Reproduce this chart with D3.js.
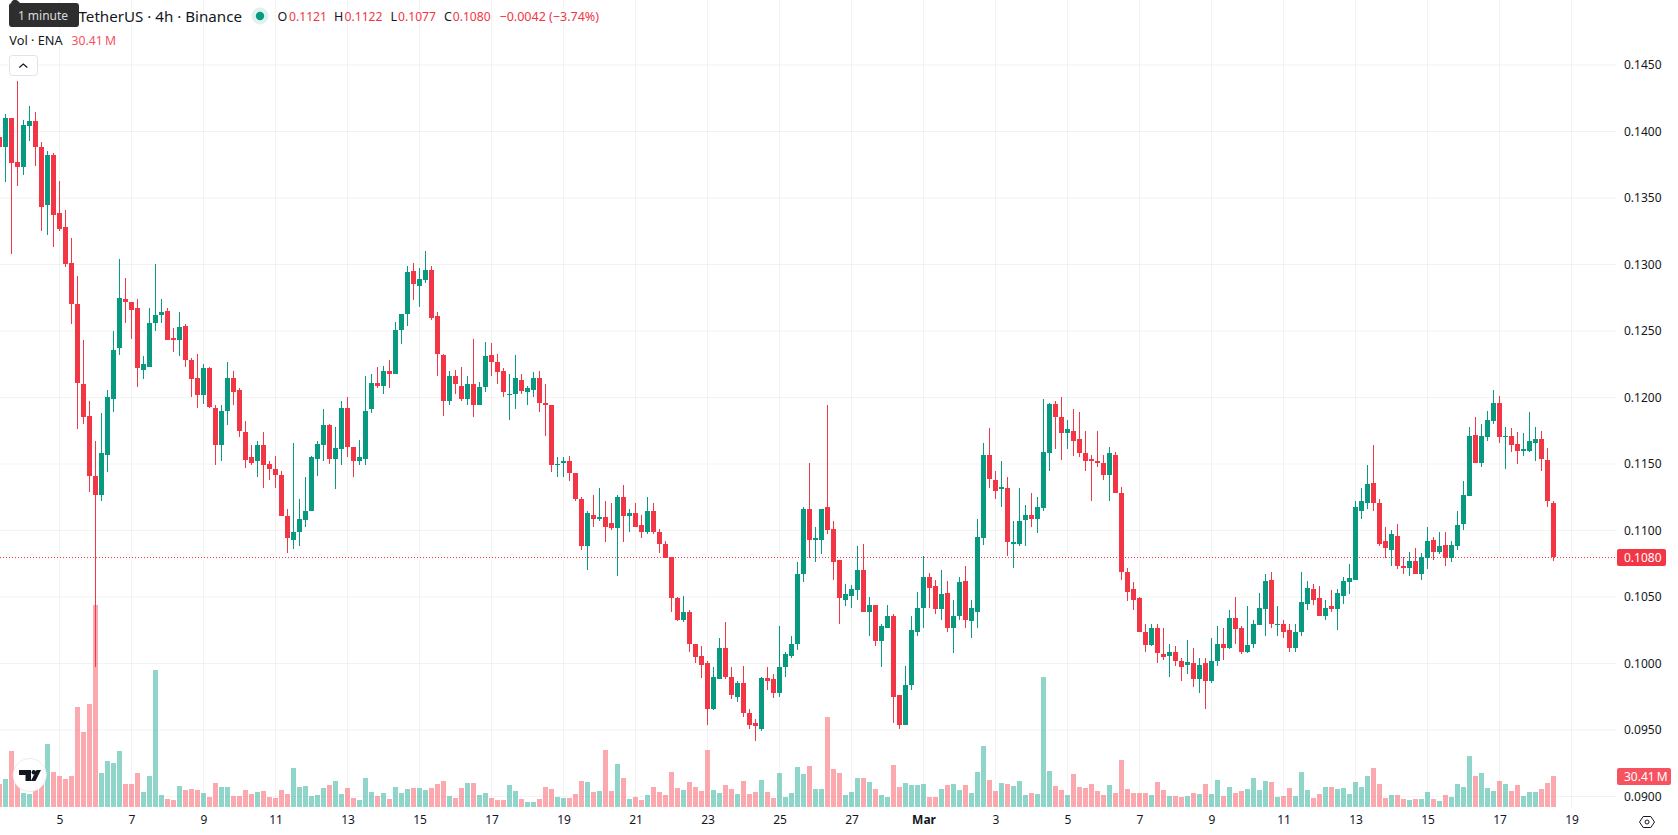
<!DOCTYPE html>
<html>
<head>
<meta charset="utf-8">
<title>ENA / TetherUS 4h</title>
<script src="https://cdn.jsdelivr.net/npm/d3@7/dist/d3.min.js"></script>
<style>
  html, body { margin: 0; padding: 0; background: #ffffff; overflow: hidden; }
  svg { display: block; font-family: "Noto Sans", sans-serif; }
</style>
</head>
<body>
<svg id="chart" width="1678" height="835"></svg>
<script>
// ENA/USDT four-hour candles, oldest first
const opens = [
0.1396,0.1388,0.1410,0.1377,0.1373,0.1404,0.1408,0.1388,0.1345,0.1382,
0.1339,0.1328,0.1301,0.1270,0.1210,0.1186,0.1141,0.1127,0.1157,0.1199,
0.1237,0.1274,0.1272,0.1267,0.1221,0.1223,0.1256,0.1262,0.1265,0.1245,
0.1243,0.1254,0.1228,0.1215,0.1202,0.1222,0.1192,0.1164,0.1190,0.1215,
0.1206,0.1174,0.1155,0.1152,0.1164,0.1150,0.1146,0.1142,0.1111,0.1093,
0.1099,0.1108,0.1115,0.1154,0.1164,0.1179,0.1154,0.1161,0.1192,0.1163,
0.1152,0.1154,0.1191,0.1211,0.1209,0.1220,0.1218,0.1251,0.1263,0.1295,
0.1284,0.1288,0.1296,0.1261,0.1232,0.1197,0.1216,0.1209,0.1199,0.1210,
0.1194,0.1208,0.1232,0.1227,0.1220,0.1203,0.1203,0.1213,0.1204,0.1206,
0.1215,0.1196,0.1194,0.1149,0.1151,0.1152,0.1143,0.1124,0.1088,0.1112,
0.1109,0.1110,0.1106,0.1102,0.1125,0.1111,0.1113,0.1104,0.1099,0.1115,
0.1099,0.1090,0.1080,0.1049,0.1033,0.1039,0.1015,0.1006,0.1000,0.0966,
0.0988,0.1012,0.0990,0.0975,0.0985,0.0963,0.0955,0.0951,0.0989,0.0988,
0.0978,0.0997,0.1006,0.1015,0.1067,0.1116,0.1093,0.1093,0.1118,0.1101,
0.1078,0.1048,0.1051,0.1055,0.1070,0.1039,0.1044,0.1017,0.1027,0.1036,
0.0976,0.0954,0.0984,0.1024,0.1042,0.1065,0.1058,0.1041,0.1053,0.1027,
0.1036,0.1062,0.1032,0.1039,0.1094,0.1157,0.1138,0.1131,0.1132,0.1090,
0.1090,0.1108,0.1112,0.1109,0.1117,0.1158,0.1195,0.1185,0.1173,0.1175,
0.1169,0.1158,0.1154,0.1152,0.1151,0.1142,0.1157,0.1128,0.1069,0.1056,
0.1049,0.1024,0.1014,0.1027,0.1007,0.1006,0.1009,0.1002,0.0999,0.1000,
0.0988,0.1000,0.0987,0.1002,0.1015,0.1012,0.1034,0.1027,0.1009,0.1015,
0.1029,0.1041,0.1063,0.1029,0.1030,0.1025,0.1012,0.1024,0.1045,0.1056,
0.1049,0.1036,0.1043,0.1041,0.1051,0.1061,0.1063,0.1115,0.1121,0.1136,
0.1121,0.1092,0.1085,0.1096,0.1073,0.1072,0.1077,0.1067,0.1079,0.1093,
0.1084,0.1089,0.1079,0.1088,0.1105,0.1126,0.1172,0.1151,0.1170,0.1182,
0.1196,0.1170,0.1171,0.1165,0.1160,0.1160,0.1166,0.1169,0.1153,0.1121
];
const highs = [
0.1397,0.1413,0.1410,0.1438,0.1409,0.1419,0.1415,0.1392,0.1385,0.1384,
0.1363,0.1341,0.1320,0.1291,0.1243,0.1197,0.1167,0.1188,0.1206,0.1250,
0.1304,0.1290,0.1272,0.1274,0.1231,0.1267,0.1300,0.1274,0.1267,0.1252,
0.1264,0.1255,0.1230,0.1233,0.1225,0.1223,0.1194,0.1194,0.1227,0.1220,
0.1207,0.1182,0.1164,0.1167,0.1174,0.1152,0.1156,0.1145,0.1116,0.1166,
0.1124,0.1140,0.1156,0.1167,0.1191,0.1180,0.1178,0.1197,0.1200,0.1163,
0.1168,0.1216,0.1218,0.1223,0.1224,0.1228,0.1257,0.1263,0.1299,0.1301,
0.1297,0.1310,0.1299,0.1264,0.1233,0.1220,0.1221,0.1223,0.1216,0.1244,
0.1212,0.1242,0.1241,0.1233,0.1222,0.1218,0.1232,0.1218,0.1209,0.1219,
0.1220,0.1210,0.1194,0.1155,0.1155,0.1156,0.1143,0.1125,0.1115,0.1127,
0.1132,0.1122,0.1121,0.1127,0.1134,0.1116,0.1121,0.1112,0.1125,0.1121,
0.1101,0.1092,0.1080,0.1050,0.1051,0.1040,0.1015,0.1013,0.1002,0.0997,
0.1019,0.1031,0.0997,0.0987,0.0998,0.0966,0.0958,0.0990,0.0997,0.0992,
0.1028,0.1009,0.1021,0.1076,0.1118,0.1151,0.1103,0.1116,0.1194,0.1107,
0.1078,0.1060,0.1059,0.1088,0.1090,0.1050,0.1044,0.1030,0.1044,0.1037,
0.0976,0.0998,0.1036,0.1054,0.1081,0.1068,0.1063,0.1070,0.1062,0.1048,
0.1065,0.1073,0.1048,0.1109,0.1166,0.1177,0.1145,0.1152,0.1140,0.1107,
0.1132,0.1119,0.1128,0.1125,0.1199,0.1196,0.1197,0.1200,0.1183,0.1191,
0.1189,0.1175,0.1157,0.1175,0.1157,0.1163,0.1159,0.1133,0.1072,0.1061,
0.1050,0.1030,0.1030,0.1030,0.1027,0.1015,0.1013,0.1004,0.1018,0.1012,
0.1004,0.1004,0.1019,0.1028,0.1027,0.1040,0.1050,0.1028,0.1043,0.1033,
0.1053,0.1067,0.1069,0.1043,0.1033,0.1030,0.1030,0.1069,0.1062,0.1060,
0.1058,0.1048,0.1055,0.1056,0.1065,0.1075,0.1122,0.1132,0.1149,0.1164,
0.1124,0.1103,0.1100,0.1105,0.1080,0.1084,0.1087,0.1083,0.1103,0.1095,
0.1099,0.1099,0.1092,0.1115,0.1137,0.1178,0.1185,0.1180,0.1190,0.1206,
0.1201,0.1178,0.1177,0.1174,0.1173,0.1189,0.1178,0.1175,0.1162,0.1122
];
const lows = [
0.1387,0.1362,0.1308,0.1359,0.1367,0.1393,0.1374,0.1325,0.1322,0.1313,
0.1325,0.1298,0.1255,0.1176,0.1180,0.1129,0.0997,0.1122,0.1144,0.1189,
0.1232,0.1256,0.1244,0.1208,0.1214,0.1223,0.1250,0.1256,0.1243,0.1234,
0.1231,0.1223,0.1200,0.1192,0.1195,0.1192,0.1149,0.1152,0.1179,0.1194,
0.1170,0.1147,0.1149,0.1140,0.1132,0.1138,0.1132,0.1111,0.1083,0.1086,
0.1088,0.1103,0.1115,0.1141,0.1152,0.1150,0.1131,0.1149,0.1155,0.1140,
0.1149,0.1149,0.1188,0.1207,0.1203,0.1207,0.1218,0.1240,0.1254,0.1273,
0.1268,0.1286,0.1258,0.1216,0.1186,0.1194,0.1203,0.1197,0.1194,0.1185,
0.1194,0.1204,0.1216,0.1210,0.1200,0.1183,0.1191,0.1203,0.1194,0.1200,
0.1189,0.1171,0.1144,0.1140,0.1140,0.1137,0.1122,0.1085,0.1070,0.1103,
0.1107,0.1091,0.1100,0.1066,0.1091,0.1099,0.1103,0.1094,0.1097,0.1097,
0.1083,0.1079,0.1039,0.1032,0.1031,0.1009,0.1000,0.0989,0.0954,0.0965,
0.0988,0.0988,0.0973,0.0971,0.0960,0.0951,0.0942,0.0949,0.0980,0.0974,
0.0975,0.0990,0.1004,0.1010,0.1061,0.1079,0.1076,0.1082,0.1097,0.1063,
0.1030,0.1043,0.1042,0.1048,0.1039,0.1021,0.1013,0.0997,0.1027,0.0955,
0.0951,0.0954,0.0980,0.1021,0.1027,0.1042,0.1037,0.1033,0.1024,0.1008,
0.1033,0.1027,0.1019,0.1027,0.1089,0.1132,0.1124,0.1118,0.1081,0.1072,
0.1088,0.1088,0.1103,0.1098,0.1115,0.1145,0.1161,0.1153,0.1161,0.1156,
0.1155,0.1145,0.1122,0.1148,0.1138,0.1122,0.1128,0.1063,0.1047,0.1040,
0.1024,0.1009,0.1013,0.1000,0.1003,0.0990,0.0998,0.0987,0.0992,0.0982,
0.0978,0.0966,0.0985,0.0998,0.1003,0.1011,0.1015,0.1007,0.1008,0.1012,
0.1029,0.1021,0.1027,0.1021,0.1019,0.1009,0.1009,0.1021,0.1040,0.1044,
0.1036,0.1033,0.1039,0.1025,0.1045,0.1052,0.1063,0.1109,0.1116,0.1115,
0.1088,0.1079,0.1073,0.1071,0.1067,0.1066,0.1067,0.1063,0.1071,0.1078,
0.1082,0.1073,0.1076,0.1085,0.1100,0.1126,0.1151,0.1148,0.1167,0.1180,
0.1166,0.1146,0.1159,0.1150,0.1156,0.1159,0.1152,0.1145,0.1118,0.1077
];
const closes = [
0.1388,0.1410,0.1376,0.1373,0.1405,0.1408,0.1388,0.1343,0.1382,0.1337,
0.1327,0.1300,0.1270,0.1211,0.1185,0.1141,0.1127,0.1158,0.1200,0.1236,
0.1275,0.1272,0.1266,0.1222,0.1225,0.1256,0.1262,0.1264,0.1243,0.1243,
0.1253,0.1228,0.1214,0.1202,0.1222,0.1193,0.1164,0.1190,0.1215,0.1204,
0.1175,0.1153,0.1151,0.1164,0.1149,0.1146,0.1142,0.1111,0.1094,0.1099,
0.1109,0.1115,0.1155,0.1165,0.1179,0.1154,0.1162,0.1192,0.1163,0.1152,
0.1155,0.1190,0.1211,0.1209,0.1220,0.1218,0.1251,0.1263,0.1294,0.1285,
0.1289,0.1296,0.1260,0.1233,0.1197,0.1216,0.1210,0.1199,0.1210,0.1194,
0.1208,0.1231,0.1227,0.1219,0.1204,0.1203,0.1215,0.1205,0.1207,0.1215,
0.1196,0.1194,0.1149,0.1150,0.1152,0.1143,0.1124,0.1088,0.1113,0.1109,
0.1110,0.1103,0.1102,0.1125,0.1111,0.1113,0.1103,0.1099,0.1115,0.1099,
0.1090,0.1079,0.1049,0.1033,0.1039,0.1015,0.1005,0.0999,0.0966,0.0990,
0.1012,0.0990,0.0976,0.0985,0.0963,0.0954,0.0953,0.0989,0.0987,0.0978,
0.0997,0.1007,0.1015,0.1067,0.1116,0.1093,0.1094,0.1116,0.1100,0.1076,
0.1049,0.1052,0.1056,0.1070,0.1039,0.1044,0.1017,0.1028,0.1036,0.0975,
0.0954,0.0984,0.1025,0.1042,0.1065,0.1057,0.1041,0.1052,0.1027,0.1036,
0.1061,0.1033,0.1042,0.1095,0.1157,0.1139,0.1130,0.1133,0.1091,0.1091,
0.1107,0.1112,0.1109,0.1118,0.1159,0.1195,0.1185,0.1173,0.1176,0.1167,
0.1158,0.1152,0.1152,0.1151,0.1142,0.1158,0.1128,0.1069,0.1054,0.1048,
0.1024,0.1014,0.1027,0.1008,0.1005,0.1009,0.1002,0.0997,0.1001,0.0988,
0.0999,0.0987,0.1002,0.1015,0.1012,0.1034,0.1026,0.1009,0.1014,0.1030,
0.1042,0.1062,0.1030,0.1030,0.1024,0.1012,0.1024,0.1046,0.1057,0.1048,
0.1036,0.1042,0.1041,0.1053,0.1062,0.1064,0.1118,0.1122,0.1135,0.1121,
0.1090,0.1087,0.1097,0.1073,0.1072,0.1077,0.1067,0.1080,0.1092,0.1084,
0.1088,0.1079,0.1089,0.1104,0.1127,0.1171,0.1151,0.1171,0.1183,0.1196,
0.1170,0.1171,0.1164,0.1160,0.1161,0.1167,0.1169,0.1154,0.1122,0.1080
];
// Traded volume per candle, in millions of ENA
const volumes = [
22.6,27.5,55.0,30.0,13.7,12.8,21.6,25.0,61.8,34.3,
30.4,27.5,30.4,98.0,73.6,101.0,198.0,33.4,45.0,43.0,
55.0,22.6,22.6,33.4,14.7,30.4,134.0,11.8,7.8,6.9,
20.6,16.7,17.7,16.7,13.7,9.8,23.5,19.6,19.6,10.8,
10.8,16.7,12.8,14.7,15.7,9.8,8.8,16.7,12.8,38.3,
19.6,20.6,10.8,11.8,18.6,21.6,25.5,12.8,18.6,8.8,
6.9,28.4,14.7,10.8,13.7,7.8,19.6,13.7,17.7,18.6,
18.6,16.7,18.6,22.6,25.5,10.8,8.8,18.6,23.5,23.5,
11.8,13.7,8.8,6.9,6.9,21.6,15.7,7.8,4.9,4.9,
7.8,19.6,17.7,9.8,8.8,8.8,12.8,25.5,24.5,14.7,
15.7,56.0,15.7,42.2,28.4,7.8,9.8,6.9,11.8,19.6,
14.7,11.8,34.3,18.6,16.7,24.5,19.6,15.7,56.0,16.7,
13.7,21.6,17.7,12.8,25.5,12.8,14.7,26.5,14.7,8.8,
33.4,9.8,13.7,39.2,32.4,40.2,17.7,17.7,88.3,37.3,
33.4,11.8,14.7,28.4,28.4,24.5,17.7,11.8,9.8,41.2,
19.6,23.5,21.6,21.6,22.6,9.8,9.8,17.7,21.6,22.6,
16.7,21.6,13.7,34.3,59.8,26.5,15.7,23.5,22.6,20.6,
25.5,11.8,13.7,12.8,127.5,35.3,20.6,16.7,11.8,32.4,
19.6,18.6,22.6,15.7,11.8,21.6,13.7,46.0,17.7,13.7,
13.7,13.7,11.8,24.5,16.7,10.8,10.8,9.8,10.8,13.7,
12.8,22.6,12.8,26.5,10.8,19.6,13.7,15.7,17.7,28.4,
16.7,25.5,24.5,9.8,10.8,18.6,10.8,34.3,16.7,8.8,
12.8,19.6,19.6,17.7,18.6,12.8,24.5,19.6,30.4,38.3,
22.6,8.8,11.8,11.8,7.8,6.9,7.8,7.8,14.7,7.8,
5.9,11.8,9.8,22.6,19.6,50.0,30.4,33.4,18.6,15.7,
25.5,22.6,15.7,21.6,10.8,14.7,14.7,17.7,23.5,30.41
];
// Axis marks
const priceTicks = [0.0900,0.0950,0.1000,0.1050,0.1100,0.1150,0.1200,0.1250,0.1300,0.1350,0.1400,0.1450];
const dayTickDates = ["2025-02-05","2025-02-07","2025-02-09","2025-02-11","2025-02-13","2025-02-15","2025-02-17","2025-02-19","2025-02-21","2025-02-23","2025-02-25","2025-02-27","2025-03-01","2025-03-03","2025-03-05","2025-03-07","2025-03-09","2025-03-11","2025-03-13","2025-03-15","2025-03-17","2025-03-19"];

const GREEN = "#089981", RED = "#f23645";
const VOL_GREEN = "rgba(34,171,148,0.5)", VOL_RED = "rgba(247,82,95,0.5)";
const GRID = "rgba(42,46,57,0.06)", TEXT = "#131722";
const FONT = '"Noto Sans", sans-serif';
const paneRight = 1616.5, paneBottom = 807;

const BAR_MS = 4 * 3600 * 1000;
const firstBar = Date.UTC(2025, 1, 3, 8);
const barTime = i => new Date(firstBar + i * BAR_MS);

const x = d3.scaleUtc()
  .domain([barTime(1), new Date(Date.UTC(2025, 2, 19))])
  .range([5.5, 1571.5]);
const y = d3.scaleLinear().domain([0.09, 0.145]).range([796.5, 65]);
const vy = d3.scaleLinear().domain([0, volumes[volumes.length - 1]]).range([paneBottom, 776]);

const px = v => Math.round(v);
const svg = d3.select("#chart");

// Grid
const grid = svg.append("g").attr("stroke", GRID).attr("stroke-width", 1);
const dayDates = dayTickDates.map(d => new Date(d + "T00:00:00Z"));
grid.selectAll(".v").data(dayDates).join("line")
  .attr("x1", d => x(d)).attr("x2", d => x(d))
  .attr("y1", 0).attr("y2", paneBottom);
grid.selectAll(".h").data(priceTicks).join("line")
  .attr("x1", 0).attr("x2", paneRight)
  .attr("y1", d => y(d)).attr("y2", d => y(d));

const indices = d3.range(opens.length);
const isUp = i => closes[i] >= opens[i];

// Volume histogram
svg.append("g").selectAll("rect").data(indices).join("rect")
  .attr("x", i => Math.floor(x(barTime(i))) - 2)
  .attr("width", 5)
  .attr("y", i => px(vy(volumes[i])))
  .attr("height", i => paneBottom - px(vy(volumes[i])))
  .attr("fill", i => isUp(i) ? VOL_GREEN : VOL_RED);

// Last-price line
const lastClose = closes[closes.length - 1];
const lastY = Math.floor(y(lastClose)) + 0.5;
svg.append("line")
  .attr("x1", 0).attr("x2", paneRight).attr("y1", lastY).attr("y2", lastY)
  .attr("stroke", RED).attr("stroke-width", 1).attr("stroke-dasharray", "1 2");

// Candles
const candles = svg.append("g");
candles.selectAll(".wick").data(indices).join("rect")
  .attr("x", i => Math.floor(x(barTime(i))))
  .attr("width", 1)
  .attr("y", i => px(y(highs[i])))
  .attr("height", i => Math.max(1, px(y(lows[i])) - px(y(highs[i]))))
  .attr("fill", i => isUp(i) ? GREEN : RED);
candles.selectAll(".body").data(indices).join("rect")
  .attr("x", i => Math.floor(x(barTime(i))) - 2)
  .attr("width", 5)
  .attr("y", i => px(y(Math.max(opens[i], closes[i]))))
  .attr("height", i => Math.max(1, px(y(Math.min(opens[i], closes[i]))) - px(y(Math.max(opens[i], closes[i])))))
  .attr("fill", i => isUp(i) ? GREEN : RED);

// Price scale
const priceAxis = svg.append("g")
  .attr("transform", "translate(1624,0)")
  .call(d3.axisRight(y).tickValues(priceTicks).tickFormat(d3.format(".4f")).tickSize(0).tickPadding(0));
priceAxis.select(".domain").remove();
priceAxis.selectAll("text").attr("fill", TEXT).attr("font-size", 12).attr("font-family", FONT);

// Time scale
const timeAxis = svg.append("g")
  .attr("transform", "translate(0,815)")
  .call(d3.axisBottom(x).tickValues(dayDates)
    .tickFormat(d => d.getUTCDate() === 1 ? "Mar" : String(d.getUTCDate()))
    .tickSize(0).tickPadding(0));
timeAxis.select(".domain").remove();
timeAxis.selectAll("text")
  .attr("fill", TEXT).attr("font-size", 12).attr("font-family", FONT)
  .attr("font-weight", d => d.getUTCDate() === 1 ? 700 : 400);

// Value chips on the price scale
svg.append("rect").attr("x", 1617).attr("y", lastY - 8.5).attr("width", 49).attr("height", 17).attr("rx", 2).attr("fill", RED);
svg.append("text").attr("x", 1624).attr("y", lastY + 4.5).attr("fill", "#fff").attr("font-size", 12)
  .text(d3.format(".4f")(lastClose));
const lastVol = volumes[volumes.length - 1];
const volChipY = vy(lastVol);
svg.append("rect").attr("x", 1617).attr("y", volChipY - 8).attr("width", 54).attr("height", 17).attr("rx", 2).attr("fill", "#f7525f");
svg.append("text").attr("x", 1624).attr("y", volChipY + 5).attr("fill", "#fff").attr("font-size", 12)
  .text(lastVol.toFixed(2) + "\u202fM");

// Settings hexagon under the price scale
const hex = svg.append("g").attr("transform", "translate(1647,822)").attr("fill", "none").attr("stroke", TEXT).attr("stroke-width", 1);
hex.append("path").attr("d", "M-7.5 0 L-3.8 -5.5 L3.8 -5.5 L7.5 0 L3.8 5.5 L-3.8 5.5 Z");
hex.append("circle").attr("r", 2);

// Legend block
const legend = svg.append("g");
const label = (str, xPos, yPos, size, fill, width) => {
  const t = legend.append("text").attr("x", xPos).attr("y", yPos).attr("font-size", size).attr("fill", fill).text(str);
  if (width) t.attr("textLength", width).attr("lengthAdjust", "spacingAndGlyphs");
  return t;
};
label("TetherUS · 4h · Binance", 78.5, 21.5, 15, TEXT, 163.5);
legend.append("circle").attr("cx", 260).attr("cy", 16).attr("r", 8.5).attr("fill", "rgba(8,153,129,0.13)");
legend.append("circle").attr("cx", 260).attr("cy", 16).attr("r", 4.2).attr("fill", GREEN);

const lastIdx = closes.length - 1;
const fmt4 = d3.format(".4f");
const change = closes[lastIdx] - closes[lastIdx - 1];
const ohlc = [
  ["O", opens[lastIdx], 277.5, 289],
  ["H", highs[lastIdx], 334, 344.5],
  ["L", lows[lastIdx], 390.5, 398],
  ["C", closes[lastIdx], 444, 452.7]
];
ohlc.forEach(([k, v, kx, vx]) => {
  label(k, kx, 20.5, 12.5, TEXT);
  label(fmt4(v), vx, 20.5, 12.5, RED, 38);
});
const changeLabel = "\u2212" + fmt4(Math.abs(change)) + " (\u2212" + (Math.abs(change) / closes[lastIdx - 1] * 100).toFixed(2) + "%)";
label(changeLabel, 499.5, 20.5, 12.5, RED, 99.5);

label("Vol · ENA", 9.3, 45, 13, TEXT, 53.4);
label(lastVol.toFixed(2) + "\u202fM", 71.6, 45, 13, "#f7525f", 44.4);

// Collapse button
svg.append("rect").attr("x", 9.5).attr("y", 55.5).attr("width", 28).attr("height", 20).attr("rx", 3)
  .attr("fill", "#fff").attr("stroke", "#e0e3eb");
svg.append("path").attr("d", "M19.3 67.5 L23.3 64 L27.3 67.5").attr("fill", "none").attr("stroke", TEXT).attr("stroke-width", 1.2);

// Hover tooltip
svg.append("path").attr("d", "M11 3 L12 1 Q15 -1.5 18 1 L20 3 Z").attr("fill", "#2e2e2e");
svg.append("rect").attr("x", 9).attr("y", 3).attr("width", 70).attr("height", 24).attr("rx", 3).attr("fill", "#2e2e2e");
svg.append("text").attr("x", 43).attr("y", 20).attr("text-anchor", "middle").attr("fill", "#dcdcdc").attr("font-size", 12).text("1 minute");

// TradingView badge
svg.append("circle").attr("cx", 29.7).attr("cy", 775).attr("r", 16.5).attr("fill", "#fff").attr("stroke", "#ececec").attr("stroke-width", 1);
const badge = svg.append("g").attr("fill", "#131722");
badge.append("path").attr("d", "M19 770 H31 V781 H25.5 V775 H19 Z");
badge.append("circle").attr("cx", 33.8).attr("cy", 772.2).attr("r", 2.2);
badge.append("path").attr("d", "M36.5 770 H41 L35.5 781 H30.8 Z");
</script>
</body>
</html>
